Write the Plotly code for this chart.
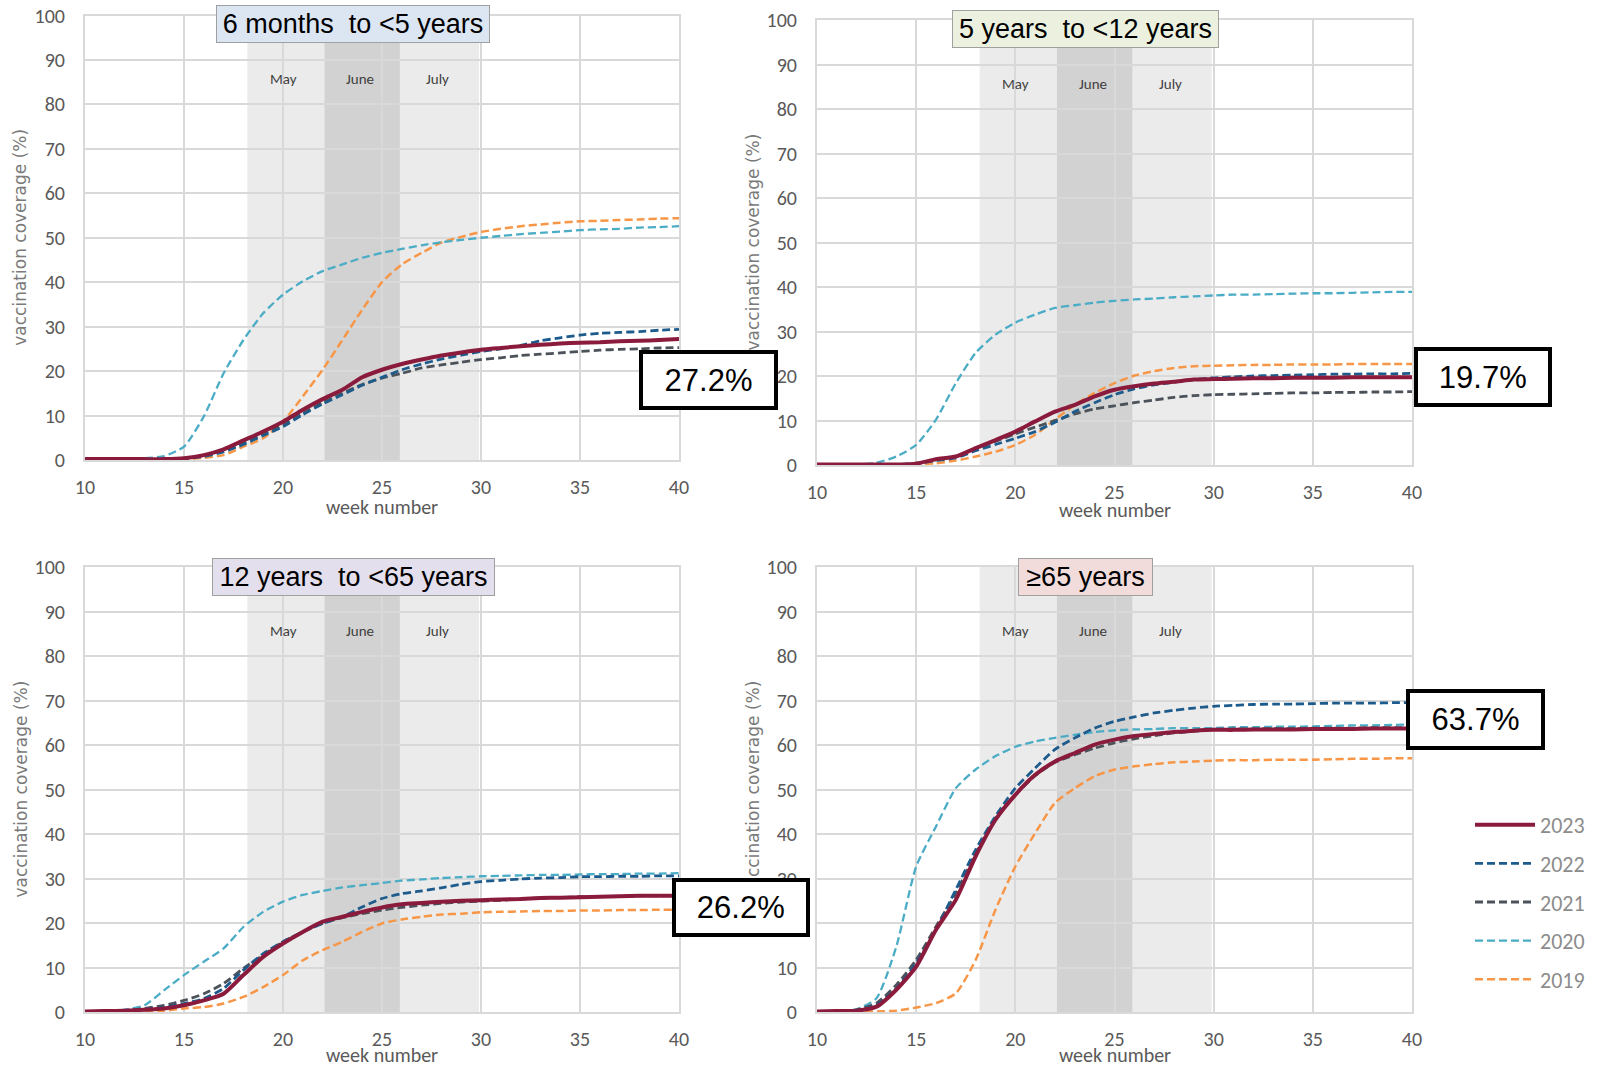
import plotly.graph_objects as go

W, H = 1604, 1067

# ---------------- data ----------------
weeks = list(range(10, 41))
years = ["2023", "2022", "2021", "2020", "2019"]

# Panel A: 6 months to <5 years
a_2023 = [0.2, 0.2, 0.2, 0.2, 0.2, 0.4, 1.1, 2.4, 4.4, 6.4, 8.6, 11.3, 13.7, 15.8, 18.6, 20.3,
          21.6, 22.6, 23.5, 24.2, 24.8, 25.2, 25.6, 25.9, 26.2, 26.4, 26.5, 26.7, 26.8, 27.0, 27.2]
a_2022 = [0.1, 0.1, 0.1, 0.1, 0.1, 0.3, 0.8, 1.8, 3.5, 5.5, 7.5, 10.2, 12.6, 14.7, 16.8, 18.6,
          20.3, 21.6, 22.7, 23.6, 24.4, 25.0, 25.8, 26.8, 27.5, 28.1, 28.5, 28.7, 28.9, 29.2, 29.4]
a_2021 = [0.1, 0.1, 0.1, 0.1, 0.1, 0.3, 1.0, 2.0, 3.8, 5.8, 8.0, 10.5, 12.9, 15.0, 17.0, 18.4,
          19.5, 20.7, 21.4, 22.0, 22.6, 23.0, 23.5, 23.8, 24.1, 24.4, 24.7, 24.9, 25.0, 25.2, 25.3]
a_2020 = [0.0, 0.0, 0.1, 0.4, 0.9, 3.0, 9.8, 19.5, 27.0, 33.0, 37.2, 40.2, 42.5, 44.0, 45.5, 46.6,
          47.5, 48.3, 49.0, 49.5, 50.0, 50.4, 50.8, 51.1, 51.4, 51.7, 51.9, 52.0, 52.3, 52.4, 52.6]
a_2019 = [0.0, 0.0, 0.0, 0.0, 0.1, 0.2, 0.5, 1.1, 3.0, 4.9, 8.6, 14.3, 20.3, 27.0, 33.8, 40.0,
          44.0, 46.6, 48.9, 50.2, 51.3, 52.0, 52.6, 53.0, 53.4, 53.7, 53.8, 54.0, 54.1, 54.3, 54.4]

# Panel B: 5 years to <12 years
b_2023 = [0.1, 0.1, 0.1, 0.1, 0.1, 0.3, 1.3, 1.9, 3.8, 5.6, 7.5, 9.8, 12.0, 13.5, 15.4, 16.9,
          17.7, 18.3, 18.7, 19.2, 19.3, 19.4, 19.5, 19.5, 19.6, 19.6, 19.6, 19.7, 19.7, 19.7, 19.7]
b_2022 = [0.1, 0.1, 0.1, 0.1, 0.1, 0.3, 1.0, 1.6, 3.2, 4.6, 6.0, 7.5, 9.6, 12.0, 14.0, 15.8,
          17.1, 18.0, 18.6, 19.2, 19.6, 19.8, 20.0, 20.1, 20.2, 20.3, 20.4, 20.4, 20.5, 20.5, 20.6]
b_2021 = [0.1, 0.1, 0.1, 0.1, 0.1, 0.4, 1.2, 1.9, 3.6, 5.3, 7.0, 8.5, 10.0, 11.5, 12.6, 13.3,
          14.0, 14.6, 15.2, 15.6, 15.8, 15.9, 16.0, 16.1, 16.2, 16.2, 16.3, 16.3, 16.4, 16.4, 16.5]
b_2020 = [0.0, 0.0, 0.1, 0.5, 1.9, 4.5, 10.2, 18.4, 25.2, 29.3, 32.0, 33.8, 35.3, 35.9, 36.5, 36.9,
          37.2, 37.4, 37.7, 37.9, 38.1, 38.3, 38.3, 38.4, 38.5, 38.6, 38.6, 38.7, 38.8, 38.9, 38.9]
b_2019 = [0.0, 0.0, 0.0, 0.0, 0.0, 0.2, 0.4, 1.0, 1.9, 3.0, 4.5, 6.8, 10.2, 13.5, 16.2, 18.4,
          20.1, 21.1, 21.8, 22.2, 22.3, 22.4, 22.5, 22.5, 22.6, 22.6, 22.6, 22.7, 22.7, 22.7, 22.7]

# Panel C: 12 years to <65 years
c_2023 = [0.1, 0.2, 0.3, 0.5, 0.8, 1.5, 2.6, 4.1, 8.3, 12.4, 15.4, 18.0, 20.3, 21.4, 22.5, 23.5,
          24.2, 24.5, 24.8, 25.0, 25.1, 25.3, 25.4, 25.6, 25.7, 25.8, 25.9, 26.0, 26.1, 26.1, 26.2]
c_2022 = [0.1, 0.2, 0.4, 0.5, 1.1, 1.9, 3.0, 5.3, 9.4, 13.1, 15.8, 18.0, 19.9, 21.4, 23.6, 25.5,
          26.6, 27.2, 27.9, 28.7, 29.3, 29.6, 29.9, 30.1, 30.2, 30.4, 30.4, 30.5, 30.5, 30.6, 30.6]
c_2021 = [0.1, 0.2, 0.3, 0.8, 1.5, 2.6, 4.1, 6.4, 9.8, 12.8, 15.8, 18.0, 19.9, 21.2, 22.1, 22.9,
          23.5, 24.0, 24.4, 24.7, 24.9, 25.1, 25.4, 25.6, 25.7, 25.9, 26.0, 26.0, 26.1, 26.1, 26.2]
c_2020 = [0.0, 0.1, 0.5, 1.5, 4.9, 8.3, 11.3, 14.3, 19.1, 22.5, 24.8, 26.3, 27.2, 28.0, 28.5, 29.0,
          29.5, 29.8, 30.1, 30.3, 30.5, 30.6, 30.7, 30.8, 30.8, 30.9, 31.0, 31.0, 31.1, 31.1, 31.2]
c_2019 = [0.0, 0.0, 0.1, 0.2, 0.3, 0.8, 1.1, 1.9, 3.4, 5.6, 8.3, 11.6, 13.9, 15.8, 18.0, 19.9,
          20.8, 21.4, 21.9, 22.1, 22.4, 22.5, 22.6, 22.7, 22.7, 22.8, 22.8, 22.9, 22.9, 23.0, 23.0]

# Panel D: >=65 years
d_2023 = [0.1, 0.2, 0.3, 1.2, 5.0, 10.2, 18.5, 25.2, 35.0, 43.2, 48.8, 53.3, 56.3, 58.2, 60.1, 61.2,
          62.0, 62.5, 62.9, 63.2, 63.4, 63.4, 63.5, 63.5, 63.5, 63.6, 63.6, 63.6, 63.7, 63.7, 63.7]
d_2022 = [0.1, 0.2, 0.4, 1.6, 5.3, 11.0, 18.5, 27.5, 36.5, 44.0, 50.3, 54.8, 59.0, 61.6, 63.8, 65.3,
          66.3, 67.2, 67.8, 68.3, 68.7, 68.9, 69.1, 69.2, 69.2, 69.3, 69.4, 69.4, 69.4, 69.5, 69.5]
d_2021 = [0.1, 0.2, 0.5, 2.0, 6.1, 11.7, 19.2, 26.7, 35.7, 43.6, 48.8, 53.1, 56.1, 57.8, 59.3, 60.5,
          61.4, 62.1, 62.7, 63.1, 63.5, 63.6, 63.6, 63.7, 63.7, 63.8, 63.8, 63.8, 63.9, 63.9, 63.9]
d_2020 = [0.0, 0.1, 0.6, 3.1, 14.7, 32.7, 41.7, 50.3, 54.5, 57.5, 59.6, 60.8, 61.6, 62.3, 62.9, 63.3,
          63.5, 63.6, 63.8, 63.8, 63.8, 64.0, 64.0, 64.1, 64.1, 64.2, 64.3, 64.4, 64.4, 64.5, 64.6]
d_2019 = [0.0, 0.0, 0.0, 0.1, 0.3, 1.0, 2.0, 4.2, 11.7, 23.0, 32.7, 40.2, 47.0, 50.3, 53.0, 54.5,
          55.2, 55.7, 56.1, 56.3, 56.5, 56.6, 56.6, 56.7, 56.7, 56.7, 56.8, 56.9, 56.9, 57.0, 57.0]

panel_titles = ["6 months\u00a0 to &lt;5 years", "5 years\u00a0 to &lt;12 years",
                "12 years\u00a0 to &lt;65 years", "\u226565 years"]
latest_labels = ["27.2%", "19.7%", "26.2%", "63.7%"]
month_names = ["May", "June", "July"]
month_pos = [20.0, 23.9, 27.8]
x_tick_vals = [10, 15, 20, 25, 30, 35, 40]
y_tick_vals = [0, 10, 20, 30, 40, 50, 60, 70, 80, 90, 100]
light_band = [18.2, 29.9]
dark_band = [22.1, 25.9]

panel_series = [
    [a_2023, a_2022, a_2021, a_2020, a_2019],
    [b_2023, b_2022, b_2021, b_2020, b_2019],
    [c_2023, c_2022, c_2021, c_2020, c_2019],
    [d_2023, d_2022, d_2021, d_2020, d_2019],
]

# ---------------- styling ----------------
colors = {"2023": "#8a1b3d", "2022": "#1d5b8c", "2021": "#4b525a",
          "2020": "#4bacc6", "2019": "#f79646"}
widths = {"2023": 4, "2022": 2.8, "2021": 2.8, "2020": 2.3, "2019": 2.5}
dashes = {"2023": "solid", "2022": "8px,4px", "2021": "8px,4px",
          "2020": "8px,4px", "2019": "8px,4px"}

CAL = "Carlito, Calibri, Lato, sans-serif"
ARIAL = "Liberation Sans, Arial, sans-serif"
GRID = "#d9d9d9"


def px(x):
    return x / W


def py(y):
    return 1 - y / H


# plot areas in pixels: (left, right, top, bottom)
areas = [(85, 679, 15.5, 460), (817, 1412, 20, 465),
         (85, 679, 567, 1012), (817, 1412, 567, 1012)]
title_boxes = [(216, 490, 5.7, 43.3, "#dce6f2"), (952, 1219, 10, 48.3, "#ebf1de"),
               (212, 495, 557.5, 595.5, "#e4dfec"), (1018, 1153, 557.5, 595.5, "#f2dcdb")]
value_boxes = [(639, 778, 350, 410), (1414.5, 1552, 347, 407),
               (672.5, 810, 878, 937), (1406, 1545, 689, 750)]
ytitle_x = [20, 752, 20, 752]
xtitle_y = [507, 510, 1055, 1055]

fig = go.Figure()
layout = dict(width=W, height=H, autosize=False,
              margin=dict(l=0, r=0, t=0, b=0, pad=0, autoexpand=False),
              paper_bgcolor="white", plot_bgcolor="white",
              showlegend=True)
shapes = []
annotations = []

for i, (series, area) in enumerate(zip(panel_series, areas)):
    n = "" if i == 0 else str(i + 1)
    xa, ya = "x" + n, "y" + n
    l, r, t, b = area
    layout["xaxis" + n] = dict(
        domain=[px(l), px(r)], anchor=ya, range=[10, 40],
        tickmode="array", tickvals=x_tick_vals,
        showgrid=True, gridcolor=GRID, gridwidth=1.5,
        showline=True, linecolor=GRID, linewidth=2, mirror=True,
        zeroline=False, ticks="", ticklabelstandoff=8, automargin=False,
        tickfont=dict(family=CAL, size=20, color="#595959"), fixedrange=True)
    layout["yaxis" + n] = dict(
        domain=[py(b), py(t)], anchor=xa, range=[0, 100],
        tickmode="array", tickvals=y_tick_vals,
        showgrid=True, gridcolor=GRID, gridwidth=1.5,
        showline=True, linecolor=GRID, linewidth=2, mirror=True,
        zeroline=False, ticks="", ticklabelstandoff=14, automargin=False,
        tickfont=dict(family=CAL, size=20, color="#595959"), fixedrange=True)

    # month bands
    shapes.append(dict(type="rect", xref=xa, yref=ya, x0=light_band[0], x1=light_band[1],
                       y0=0, y1=100, fillcolor="#ebebeb", line=dict(width=0), layer="below"))
    shapes.append(dict(type="rect", xref=xa, yref=ya, x0=dark_band[0], x1=dark_band[1],
                       y0=0, y1=100, fillcolor="#d2d2d2", line=dict(width=0), layer="below"))

    # traces: draw older years first so 2023 is on top
    order = [4, 3, 2, 1, 0]
    for k in order:
        yr = years[k]
        fig.add_trace(go.Scatter(
            x=weeks, y=series[k], xaxis=xa, yaxis=ya, mode="lines", name=yr,
            line=dict(color=colors[yr], width=widths[yr], dash=dashes[yr],
                      shape="spline", smoothing=0.6),
            legendgroup=yr, legendrank=k + 1, showlegend=(i == 0),
            hoverinfo="skip"))

    # month labels
    for mname, mx in zip(month_names, month_pos):
        annotations.append(dict(text=mname, xref=xa, yref=ya, x=mx, y=85.7,
                                showarrow=False, font=dict(family=CAL, size=15, color="#404040")))

    # axis titles
    annotations.append(dict(text="week number", xref="paper", yref="paper",
                            x=px((l + r) / 2), y=py(xtitle_y[i]), xanchor="center",
                            yanchor="middle", showarrow=False,
                            font=dict(family=CAL, size=20, color="#595959")))
    annotations.append(dict(text="vaccination coverage (%)", xref="paper", yref="paper",
                            x=px(ytitle_x[i]), y=py((t + b) / 2), textangle=-90,
                            xanchor="center", yanchor="middle", showarrow=False,
                            font=dict(family="DejaVu Sans, Verdana, sans-serif", size=17,
                                      color="#7a7a7a")))

# title boxes
for i, (x0, x1, y0, y1, bg) in enumerate(title_boxes):
    annotations.append(dict(text=panel_titles[i], xref="paper", yref="paper",
                            x=px((x0 + x1) / 2), y=py((y0 + y1) / 2),
                            xanchor="center", yanchor="middle", showarrow=False,
                            width=x1 - x0 - 2, height=y1 - y0 - 2, borderpad=0,
                            bgcolor=bg, bordercolor="#a0a0a0", borderwidth=1,
                            font=dict(family=ARIAL, size=27, color="black")))

# latest-value boxes (drawn last, on top)
for i, (x0, x1, y0, y1) in enumerate(value_boxes):
    annotations.append(dict(text=latest_labels[i], xref="paper", yref="paper",
                            x=px((x0 + x1) / 2), y=py((y0 + y1) / 2),
                            xanchor="center", yanchor="middle", showarrow=False,
                            width=x1 - x0 - 8, height=y1 - y0 - 8, borderpad=0,
                            bgcolor="white", bordercolor="black", borderwidth=4,
                            font=dict(family=ARIAL, size=31, color="black")))

layout["shapes"] = shapes
layout["annotations"] = annotations
layout["legend"] = dict(x=px(1470), y=py(804), xanchor="left", yanchor="top",
                        bgcolor="rgba(0,0,0,0)", borderwidth=0,
                        font=dict(family=CAL, size=22, color="#8c8c8c"),
                        tracegroupgap=7, itemwidth=60, traceorder="grouped")
fig.update_layout(**layout)

fig.write_html("out.html", config={"displayModeBar": False},
               post_script="document.body.style.margin='0';document.body.style.overflow='hidden';")
